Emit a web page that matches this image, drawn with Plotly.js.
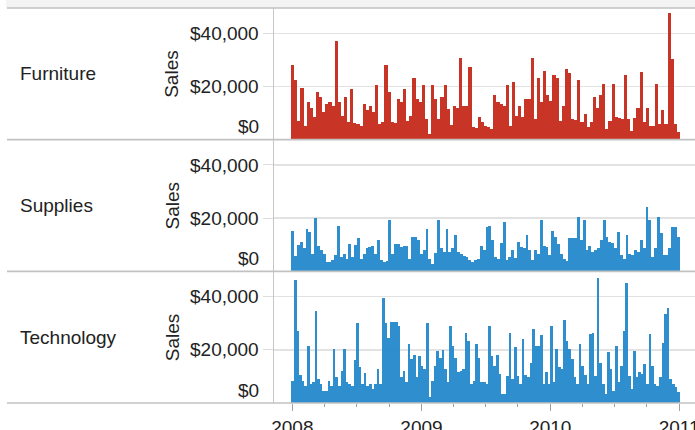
<!DOCTYPE html>
<html>
<head>
<meta charset="utf-8">
<script src="https://cdn.plot.ly/plotly-3.0.1.min.js"></script>
<style>html,body{margin:0;padding:0;background:#fff;}#chart{width:695px;height:430px;}</style>
</head>
<body>
<div id="chart"></div>
<script>
// ---- data ----
const categories = ['Furniture', 'Supplies', 'Technology'];
const firstOrderDate = '2008-01-02';
const lastOrderDate = '2010-12-30';

const furnitureSales = [
  28000,22300,7100,19500,5200,14000,12000,8400,18000,16000,
  10300,13500,14000,12500,37000,14000,9000,16000,6500,19000,
  6200,5800,5000,13500,11000,12500,10300,20400,5800,6500,
  28000,18000,6500,6200,15400,14000,19000,7100,9000,23000,
  15400,14000,20400,7700,2000,20400,15400,7700,16000,20400,
  11500,5500,12800,12000,30800,12800,12500,27400,4600,4200,
  8400,6500,5000,
  4600,4000,16900,14000,13500,12500,20400,5200,21700,9000,
  12500,8400,15400,15400,30800,7700,23000,14000,25900,16900,
  14400,24500,23000,7100,12500,26500,24900,7700,7500,22300,
  6500,9600,4600,6500,16000,11800,16900,21100,4000,7100,
  21100,8400,8000,7700,24500,7700,3300,8000,12000,25300,
  6500,11800,5200,5200,21100,5800,11300,5800,47800,30400,
  5800,2700
];

const suppliesSales = [
  15300,5700,9900,11100,8600,15800,14900,6700,20000,9500,
  8000,6700,3500,3500,4200,6100,17100,5400,6700,4800,
  10300,5400,9900,12400,4800,6700,8600,9200,9500,6700,
  11800,4200,3500,3900,19400,6700,10300,10300,9200,9500,
  9500,4800,13000,12800,11800,6700,8000,16000,4800,2900,
  7000,19400,8600,7300,15800,7300,8600,13700,7300,6700,
  5700,5400,4200,3500,4200,4800,9500,8000,16600,17100,11800,
  5400,4800,10500,18700,4200,5400,8200,5200,11100,9200,
  8600,13700,8000,4400,8200,6700,19400,9500,9200,6100,
  15300,13000,10300,6700,4800,3900,12400,12400,12400,20600,
  11800,19400,8000,9500,7300,8000,8600,11800,19400,13000,
  11100,10500,8600,14600,6100,4800,13700,6700,6100,8000,
  7300,11800,8600,24200,19400,5400,8600,20600,14300,6100,
  6100,8600,16600,16600,13000
];

const technologySales = [
  8400,46200,27100,10500,8400,6500,21500,7100,7800,34600,
  9000,7100,4600,4600,8400,6500,20200,9600,6500,12100,
  20200,7800,7100,6500,16200,30000,13400,7100,11200,6500,
  7100,5200,7100,12700,7100,39600,30200,24600,30500,30500,
  30500,29000,9600,12100,7800,22100,16500,18000,9600,17500,
  14000,12700,30000,2100,8400,14000,19600,17100,20000,12700,
  7800,29000,21500,17100,11500,12100,12700,26500,23400,7100,
  8400,22100,17100,7800,7800,7100,29000,17700,
  14000,18000,10900,3400,3400,10000,26500,9000,20900,10200,
  7100,24200,10500,9600,15200,27700,21500,21500,25500,7100,
  11700,7100,29000,7800,20200,13400,12700,31200,23400,20200,
  16700,9600,7100,22100,14000,10500,7100,25900,26500,10200,
  47100,15200,7100,3400,19000,12700,4600,21500,7800,14000,
  27100,45000,10200,5200,19600,9600,11500,10900,14600,7100,
  25900,14000,7100,6500,9600,22500,33400,35900,9000,7100,
  5900,4000
];

const yTickValues = [20000, 40000];
const yTickLabels = ['$20,000', '$40,000'];
const zeroLabel = '$0';
const axisTitle = 'Sales';

// ---- styling / layout ----
const seriesColors = ['#c52a1b', '#2489cb', '#2489cb'];
const seriesData = [furnitureSales, suppliesSales, technologySales];
const FONT = '"Liberation Sans", Arial, sans-serif';
const TXT = '#222';
const W = 695, H = 430, ML = 274, MR = 0, MT = 8, MB = 27;
const PW = W - ML - MR;
const px = p => (p - ML) / PW;   // pixel -> paper x

const startMs = Date.parse(firstOrderDate + 'T00:00:00Z');
const endMs = Date.parse(lastOrderDate + 'T00:00:00Z');

const traces = seriesData.map((vals, i) => {
  const step = (endMs - startMs) / (vals.length - 1);
  return {
    type: 'bar',
    name: categories[i],
    x0: firstOrderDate,
    dx: step,
    y: vals,
    width: step,
    xaxis: 'x',
    yaxis: i === 0 ? 'y' : 'y' + (i + 1),
    marker: {color: seriesColors[i], opacity: 0.95, line: {width: 0}},
    hoverinfo: 'skip',
    showlegend: false
  };
});

const domains = [[2/3, 1], [1/3, 2/3], [0, 1/3]];
function yAxis(i) {
  return {
    domain: domains[i],
    anchor: 'x',
    range: [0, 49500],
    tickvals: yTickValues,
    ticktext: yTickLabels,
    ticks: 'outside',
    ticklen: 10,
    tickcolor: '#dedede',
    tickwidth: 1,
    showgrid: true,
    gridcolor: '#e2e2e2',
    gridwidth: 1.5,
    zeroline: false,
    showline: true,
    linecolor: '#c6c6c6',
    linewidth: 1.5,
    tickfont: {family: FONT, size: 19, color: TXT},
    fixedrange: true
  };
}

const shapes = [];
// header band on top
shapes.push({type: 'rect', xref: 'paper', yref: 'paper', x0: px(6), x1: 1, y0: 1, y1: 1 + MT / (H - MT - MB),
  fillcolor: '#f3f3f3', line: {width: 0}, layer: 'below'});
// row separators
[1, 2/3, 1/3, 0].forEach(y => {
  shapes.push({type: 'line', xref: 'paper', yref: 'paper', x0: px(7), x1: 1, y0: y, y1: y,
    line: {color: '#c2c2c2', width: 1.6}, layer: 'above'});
});

const annotations = [];
const centers = [5/6, 1/2, 1/6];
categories.forEach((c, i) => {
  annotations.push({xref: 'paper', yref: 'paper', x: px(18), y: centers[i], xanchor: 'left', yanchor: 'middle',
    text: c, showarrow: false, font: {family: FONT, size: 19, color: TXT}});
  annotations.push({xref: 'paper', yref: 'paper', x: px(172), y: centers[i], xanchor: 'center', yanchor: 'middle',
    text: axisTitle, textangle: -90, showarrow: false, font: {family: FONT, size: 19, color: TXT}});
  annotations.push({xref: 'paper', yref: 'paper', x: 0, y: domains[i][0], xanchor: 'right', yanchor: 'middle',
    xshift: -13, yshift: 13, text: zeroLabel, showarrow: false, font: {family: FONT, size: 19, color: TXT}});
});

const layout = {
  width: W, height: H,
  margin: {l: ML, r: MR, t: MT, b: MB, pad: 0},
  paper_bgcolor: '#fff', plot_bgcolor: '#fff',
  bargap: 0,
  barmode: 'overlay',
  xaxis: {
    type: 'date',
    anchor: 'y3',
    range: ['2007-11-10', '2011-02-15'],
    tick0: '2008-01-01',
    dtick: 'M12',
    tickformat: '%Y',
    ticks: 'outside',
    ticklen: 7,
    tickcolor: '#a0a0a0',
    showgrid: false,
    zeroline: false,
    showline: false,
    ticklabeloverflow: 'allow',
    tickfont: {family: FONT, size: 19, color: TXT},
    minor: {dtick: 'M3', tick0: '2008-01-01', ticks: 'outside', ticklen: 3, tickcolor: '#a0a0a0', showgrid: false},
    fixedrange: true
  },
  yaxis: yAxis(0),
  yaxis2: yAxis(1),
  yaxis3: yAxis(2),
  shapes: shapes,
  annotations: annotations,
  showlegend: false
};

Plotly.newPlot('chart', traces, layout, {displayModeBar: false, staticPlot: true});
</script>
</body>
</html>
